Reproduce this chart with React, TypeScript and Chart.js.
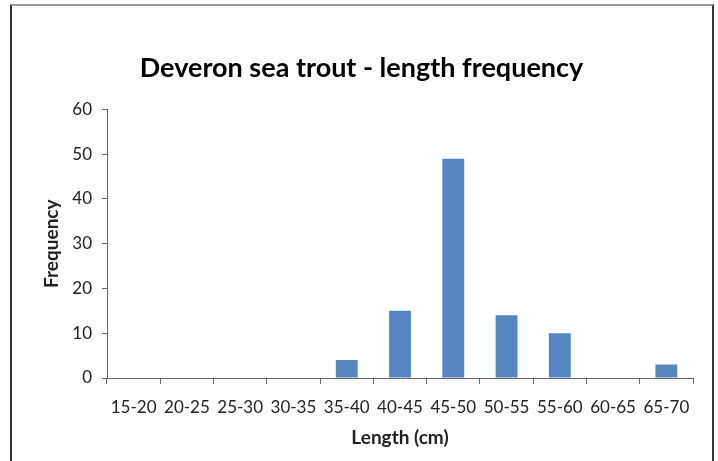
import React, { useEffect, useRef } from "react";
import { Chart, registerables } from "chart.js";

Chart.register(...registerables);

const TITLE = "Deveron sea trout - length frequency";
const X_TITLE = "Length (cm)";
const Y_TITLE = "Frequency";
const categories = ["15-20", "20-25", "25-30", "30-35", "35-40", "40-45", "45-50", "50-55", "55-60", "60-65", "65-70"];
const frequency = [0, 0, 0, 0, 4, 15, 49, 14, 10, 0, 3];
const Y_MIN = 0;
const Y_MAX = 60;
const Y_STEP = 10;

const FONT = "Lato, 'Open Sans', sans-serif";

export default function App() {
  const ref = useRef<HTMLCanvasElement | null>(null);

  useEffect(() => {
    document.body.style.margin = "0";
    const ctx = ref.current!.getContext("2d")!;
    const chart = new Chart(ctx, {
      type: "bar",
      data: {
        labels: categories,
        datasets: [
          {
            label: "Frequency",
            data: frequency,
            backgroundColor: "#5586c2",
            borderWidth: 0,
            barPercentage: 0.41,
            categoryPercentage: 1,
          },
        ],
      },
      options: {
        animation: false,
        responsive: false,
        maintainAspectRatio: false,
        layout: { padding: { left: 15, right: 10, top: 0, bottom: 0 } },
        plugins: {
          legend: { display: false },
          tooltip: { enabled: false },
          title: {
            display: true,
            text: TITLE,
            color: "#000",
            font: { family: FONT, size: 27, weight: "bold" },
            padding: { top: 52, bottom: 25 },
          },
        },
        scales: {
          x: {
            afterFit: (s: any) => {
              s.height = 83;
            },
            grid: {
              drawOnChartArea: false,
              drawTicks: true,
              tickLength: 6,
              color: "#666",
              offset: true,
            },
            border: { display: true, color: "#666", width: 1 },
            ticks: {
              color: "#222",
              font: { family: FONT, size: 17 },
              padding: 13,
              maxRotation: 0,
              autoSkip: false,
            },
            title: {
              display: true,
              text: X_TITLE,
              color: "#222",
              font: { family: FONT, size: 19, weight: "bold" },
              padding: { top: 0, bottom: 12 },
            },
          },
          y: {
            min: Y_MIN,
            max: Y_MAX,
            afterFit: (s: any) => {
              s.width = 92;
            },
            grid: {
              drawOnChartArea: false,
              drawTicks: true,
              tickLength: 5,
              color: "#666",
            },
            border: { display: true, color: "#666", width: 1 },
            ticks: {
              stepSize: Y_STEP,
              color: "#222",
              font: { family: FONT, size: 17 },
              padding: 10,
            },
            title: {
              display: true,
              text: Y_TITLE,
              color: "#222",
              font: { family: FONT, size: 19, weight: "bold" },
              padding: { top: 25, bottom: 0 },
            },
          },
          yRight: {
            position: "right",
            display: true,
            min: Y_MIN,
            max: Y_MAX,
            afterFit: (s: any) => {
              s.width = 15;
            },
            grid: { display: false, drawOnChartArea: false, drawTicks: false },
            border: { display: false },
            ticks: { display: false },
            title: { display: false },
          },
        },
      },
    });
    return () => chart.destroy();
  }, []);

  return (
    <div style={{ position: "fixed", left: 0, top: 0, width: 718, height: 461, background: "#fff", overflow: "hidden" }}>
      <div
        style={{
          position: "absolute",
          left: 10,
          top: 4,
          width: 700,
          height: 480,
          borderLeft: "2px solid #333",
          borderRight: "2px solid #333",
          borderTop: "2px solid #9a9a9a",
        }}
      />
      <canvas ref={ref} width={718} height={461} style={{ position: "absolute", left: 0, top: 0 }} />
    </div>
  );
}
